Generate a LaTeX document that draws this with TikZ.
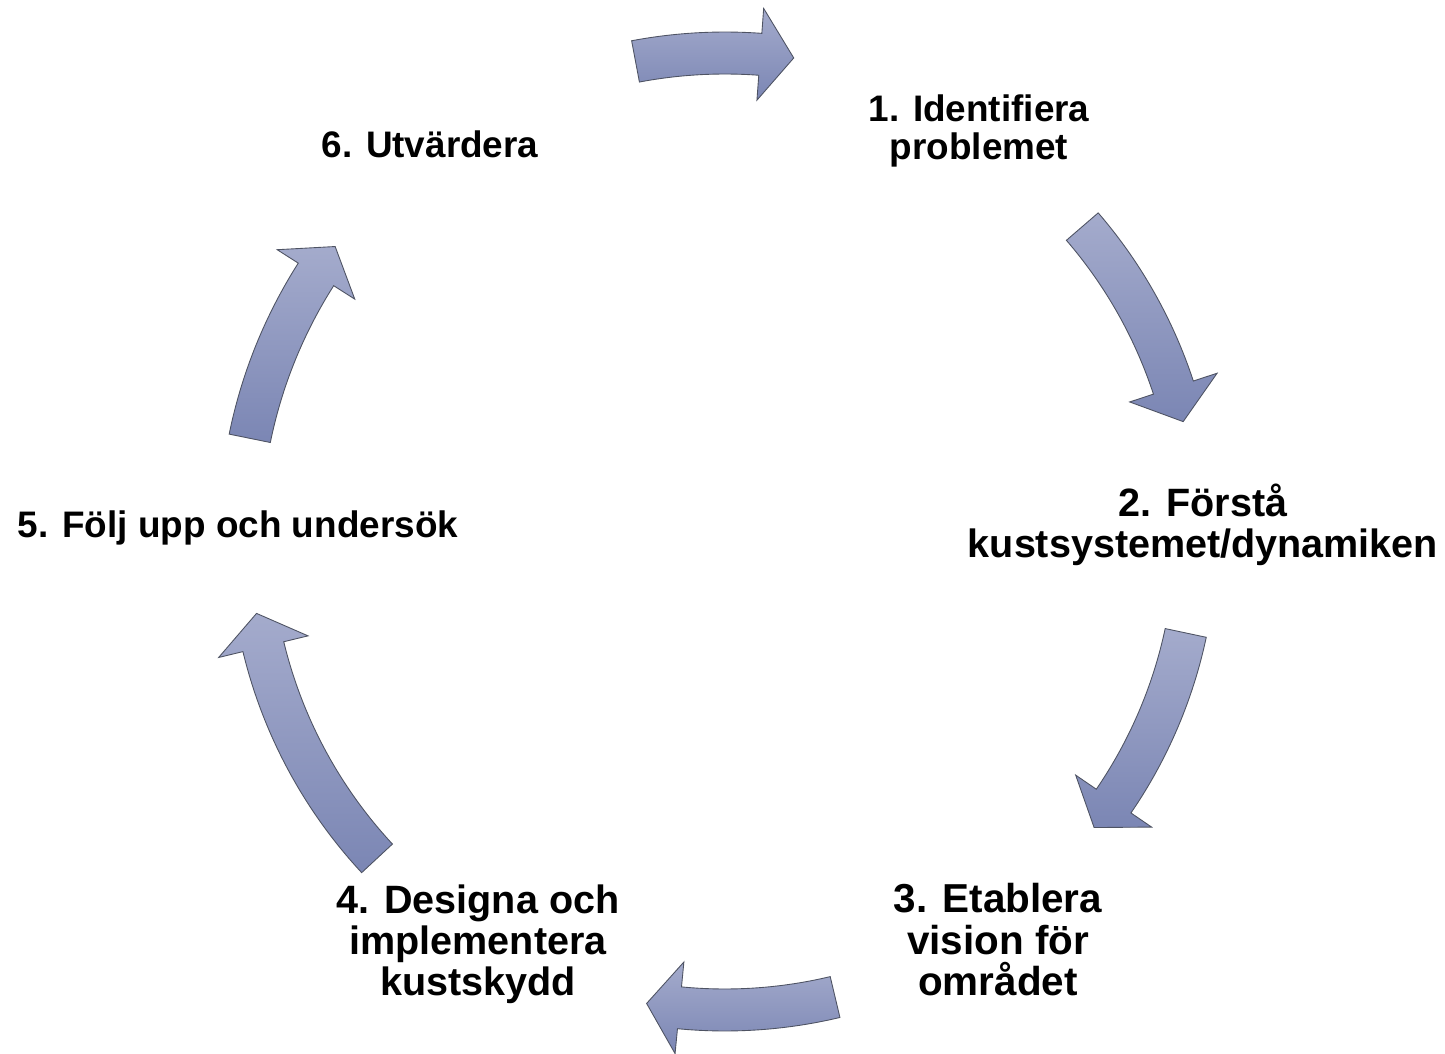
\documentclass[tikz,border=0pt]{standalone}
\usepackage{fontspec}
\setmainfont{Liberation Sans}
\definecolor{arrtop}{HTML}{A4ABCC}
\definecolor{arrbot}{HTML}{7B86B4}
\definecolor{arrline}{HTML}{4E5363}
\begin{document}
\begin{tikzpicture}[thick,
  lbl/.style 2 args={align=center,inner sep=0pt,font=\fontsize{#1}{#2}\selectfont\bfseries},
  cyc/.style={top color=arrtop,bottom color=arrbot,draw=arrline,line width=0.5pt,line join=miter}]
\useasboundingbox (0,0) rectangle (28.9,-21.08);
\coordinate (c) at (14.5,-10.7);

\node[lbl={21}{21.5}] (s1) at (19.58,-2.62) {1. Identifiera\\problemet};
\node[lbl={22.5}{23}] (s2) at (24.06,-10.5) {2. Förstå\\kustsystemet/dynamiken};
\node[lbl={23}{23.6}] (s3) at (19.96,-18.8) {3. Etablera\\vision för\\området};
\node[lbl={22.5}{23.2}] (s4) at (9.56,-18.88) {4. Designa och\\implementera\\kustskydd};
\node[lbl={21}{21.5}] (s5) at (4.76,-10.56) {5. Följ upp och undersök};
\node[lbl={21}{21.5}] (s6) at (8.6,-2.88) {6. Utvärdera};

\begin{scope}[shift={(c)}]
% arrow 6 -> 1
\draw[cyc] (100.7:10.06) arc[start angle=100.7,end angle=85.8,radius=10.06] -- (85.8:10.56) -- (81.8:9.64) -- (85.8:8.72) -- (85.8:9.22) arc[start angle=85.8,end angle=100.7,radius=9.22] -- cycle;
% arrow 1 -> 2
\draw[cyc] (40.8:9.86) arc[start angle=40.8,end angle=18.2,radius=9.86] -- (18.2:10.36) -- (13.9:9.44) -- (18.2:8.52) -- (18.2:9.02) arc[start angle=18.2,end angle=40.8,radius=9.02] -- cycle;
% arrow 2 -> 3
\draw[cyc] (-12:9.84) arc[start angle=-12,end angle=-34.4,radius=9.84] -- (-34.4:10.34) -- (-38.4:9.42) -- (-34.4:8.5) -- (-34.4:9.0) arc[start angle=-34.4,end angle=-12,radius=9.0] -- cycle;
% arrow 3 -> 4
\draw[cyc] (283.4:9.92) arc[start angle=283.4,end angle=264.5,radius=9.92] -- (264.5:10.42) -- (260.5:9.5) -- (264.5:8.58) -- (264.5:9.08) arc[start angle=264.5,end angle=283.4,radius=9.08] -- cycle;
% arrow 4 -> 5
\draw[cyc] (222.9:9.92) arc[start angle=222.9,end angle=193.6,radius=9.92] -- (193.6:10.42) -- (189.5:9.5) -- (193.6:8.58) -- (193.6:9.08) arc[start angle=193.6,end angle=222.9,radius=9.08] -- cycle;
% arrow 5 -> 6
\draw[cyc] (168.5:10.12) arc[start angle=168.5,end angle=147.5,radius=10.12] -- (147.5:10.62) -- (143.5:9.7) -- (147.5:8.78) -- (147.5:9.28) arc[start angle=147.5,end angle=168.5,radius=9.28] -- cycle;
\end{scope}
\end{tikzpicture}
\end{document}
